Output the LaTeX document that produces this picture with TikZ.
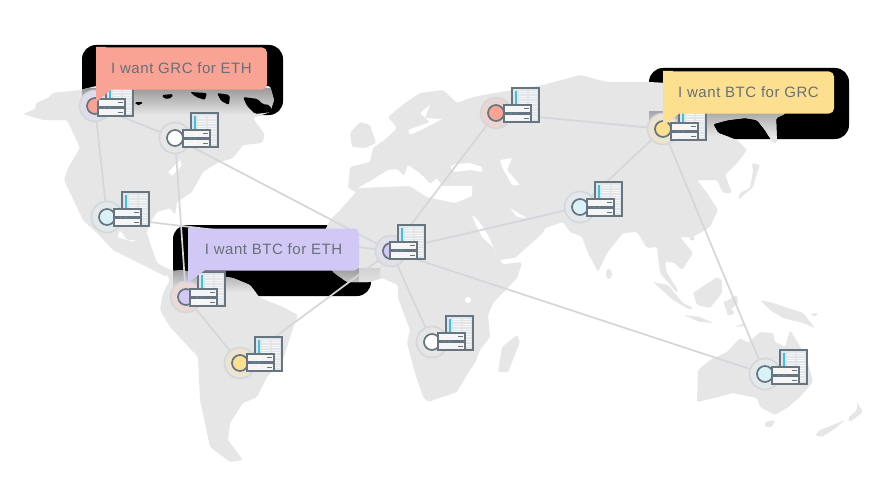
\documentclass[tikz,border=0pt]{standalone}
\usepackage{fontspec}
\setmainfont{Liberation Sans}
\newfontfamily\bubblefont[LetterSpace=3.7]{Liberation Sans}
\usetikzlibrary{backgrounds}
\pgfdeclarelayer{land}\pgfdeclarelayer{edges}\pgfdeclarelayer{bubbles}
\pgfsetlayers{land,edges,main,bubbles}
\definecolor{landc}{HTML}{E6E6E6}
\definecolor{dark}{HTML}{66757F}
\definecolor{edgec}{HTML}{D3D6DA}
\definecolor{txt}{HTML}{66707A}
\definecolor{cred}{HTML}{F8A394}
\definecolor{cblue}{HTML}{DBF1F8}
\definecolor{cpur}{HTML}{D2C8F5}
\definecolor{cyel}{HTML}{FDE08F}
\definecolor{bar}{HTML}{3CC0E4}
\definecolor{towerc}{HTML}{E2E5E7}
\tikzset{
  ring/.style={circle,minimum size=31pt,inner sep=0pt,draw=#1,line width=1.6pt},
  core/.style={circle,minimum size=16pt,inner sep=0pt,draw=dark,line width=1.7pt,fill=#1},
  link/.style={draw=edgec,line width=1.7pt},
  bubble/.style={rounded corners=5pt,fill=#1,text=txt,minimum width=171pt,minimum height=42pt,inner sep=0pt,font=\bubblefont\fontsize{15}{17}\selectfont},
  sea/.style={fill=white,rounded corners=1pt},
  ground/.style={fill=landc,rounded corners=1.5pt},
  blob/.style={fill=black,rounded corners=2pt}
}
\newcommand\srv[2]{%
 \begin{scope}[shift={(#1,#2)}]
  \fill[towerc] (8,-17) rectangle (35,17);
  \foreach \yy in {-14,-11.5,...,14}{\draw[white!70!towerc,line width=.7pt] (15,\yy) -- (23,\yy) (25,\yy) -- (33,\yy);}
  \draw[dark,line width=1.3pt] (8,-17) rectangle (35,17);
  \fill[bar] (11,-14) rectangle (13,0);
  \draw[dark,line width=1.3pt,fill=white!60!landc] (0,0) rectangle (27,17);
  \fill[dark] (0,6.7) rectangle (27,10.3);
  \fill[bar!50!dark] (7,8.5) circle (.8) (12,8.5) circle (.8);
  \draw[dark,line width=.8pt] (20,3.4) -- (25,3.4) (20,13.6) -- (25,13.6);
 \end{scope}}
\newcommand\landpath{
 (23,114)--(35,109)--(36,103)--(50,97)--(52,93)--(80,90)--(96,86)--(270,86)--(274,100)--(270,112)--(253,118)--(265,135)--(262,143)--(243,145)--(233,158)--(217,163)--(203,172)--(192,192)--(177,202)--(175,215)--(170,208)--(157,212)--(148,227)--(147,233)--(138,240)--(127,240)--(120,230)--(117,237)--(133,242)--(147,233)--(150,243)--(157,263)--(173,271)--(182,270)--(190,272)--(200,273)--(233,278)--(250,285)--(260,298)--(283,307)--(298,315)--(293,328)--(283,360)--(267,377)--(257,397)--(243,403)--(230,423)--(228,440)--(243,460)--(230,462)--(210,447)--(205,423)--(200,400)--(198,357)--(170,327)--(160,310)--(163,293)--(170,280)--(165,272)--(167,277)--(153,270)--(133,260)--(113,250)--(97,233)--(83,220)--(72,197)--(64,180)--(68,168)--(80,148)--(75,137)--(67,120)--(43,120)--cycle
 (348,188)--(350,167)--(370,162)--(373,148)--(387,138)--(397,128)--(388,117)--(405,103)--(420,93)--(443,90)--(457,103)--(470,98)--(483,95)--(543,85)--(580,75)--(607,82)--(650,82)--(700,85)--(790,95)--(785,114)--(776,118)--(777,143)--(773,143)--(765,130)--(757,120)--(745,118)--(728,120)--(713,124)--(718,133)--(737,140)--(747,150)--(737,163)--(725,175)--(732,193)--(723,193)--(717,180)--(697,180)--(707,193)--(718,210)--(710,227)--(693,237)--(680,237)--(693,253)--(682,270)--(673,262)--(665,262)--(667,273)--(678,290)--(677,293)--(660,273)--(657,247)--(647,248)--(637,232)--(623,233)--(607,253)--(598,272)--(588,253)--(582,237)--(570,232)--(563,222)--(545,228)--(543,233)--(515,258)--(522,263)--(517,278)--(493,303)--(488,315)--(490,337)--(480,350)--(475,363)--(468,373)--(457,392)--(428,402)--(423,397)--(415,373)--(407,343)--(410,330)--(398,298)--(398,285)--(382,278)--(370,282)--(347,282)--(333,272)--(318,245)--(330,220)--(342,208)--(356,192)--cycle
 (350,133)--(360,122)--(370,125)--(376,143)--(365,148)--(352,147)--cycle
 (502,347)--(517,335)--(520,342)--(508,372)--(498,372)--cycle
 (738,200)--(753,187)--(757,173)--(760,165)--(752,163)--(753,172)--(750,188)--(740,193)--cycle
 (653,282)--(668,285)--(683,303)--(693,308)--(690,310)--(673,300)--cycle
 (693,293)--(717,277)--(722,280)--(722,293)--(710,308)--(697,305)--cycle
 (723,303)--(737,295)--(738,303)--(730,310)--cycle
 (683,315)--(700,317)--(713,323)--(700,322)--cycle
 (723,300)--(735,313)--(728,316)--cycle
 (735,327)--(745,323)--(745,326)--cycle
 (760,300)--(773,303)--(803,313)--(815,328)--(803,323)--(783,318)--(770,310)--cycle
 (810,314)--(818,313)--(815,317)--cycle
 (697,402)--(698,370)--(710,360)--(727,352)--(740,338)--(748,343)--(760,332)--(773,333)--(775,342)--(785,347)--(790,330)--(798,343)--(808,363)--(813,382)--(800,397)--(787,408)--(775,415)--(760,407)--(757,398)--(733,393)--(710,399)--cycle
 (765,422)--(775,420)--(772,427)--(765,427)--cycle
 (857,402)--(863,412)--(850,422)--(848,418)--(857,410)--cycle
 (845,420)--(837,427)--(822,437)--(815,435)--(820,430)--cycle
 (609,274) ellipse (3 and 5)
 (692,238) circle (2.5)
}
\begin{document}
\begin{tikzpicture}[x=1pt,y=-1pt]
\useasboundingbox (0,0) rectangle (894,495);
\begin{pgfonlayer}{land}
 \fill[white] (0,0) rectangle (894,495);
 % black shadow plates behind the callouts
 \fill[black,rounded corners=14pt] (82,45) rectangle (283,115);
 \fill[black,rounded corners=14pt] (173,225) rectangle (371,296);
 \fill[black,rounded corners=14pt] (649,68) rectangle (849,139);
 \path[ground] \landpath;
 \begin{scope}
  \clip[rounded corners=1.5pt] \landpath;
  \shade[top color=black!40,bottom color=landc] (82,88) rectangle (283,115);
  \shade[top color=black!40,bottom color=landc] (173,268) rectangle (359,292);
  \shade[top color=black!18,bottom color=landc] (359,268) rectangle (380,285);
  \shade[top color=black!35,bottom color=landc] (649,111) rectangle (849,136);
 \end{scope}
 % holes in the Canadian archipelago
 \path[blob] (162,95)--(173,94)--(172,98)--(164,99)--cycle
  (190,92)--(207,93)--(205,100)--(196,97)--cycle
  (217,93)--(230,95)--(229,105)--(221,101)--cycle
  (243,97)--(258,99)--(262,104)--(270,105)--(272,112)--(255,114)--(247,106)--cycle
  (135,102)--(143,102)--(141,105)--(136,105)--cycle;
 % inland and marginal seas
 \path[sea] (358,188)--(372,180)--(388,170)--(397,169)--(404,176)--(408,165)--(418,172)--(425,178)--(430,184)--(437,178)--(442,186)--(472,186)--(472,196)--(455,203)--(427,197)--(410,186)--cycle;
 \path[sea] (450,167)--(455,164)--(470,163)--(482,167)--(482,172)--(470,170)--(455,172)--cycle;
 \path[sea] (500,160)--(512,158)--(507,170)--(520,185)--(512,185)--(502,167)--cycle;
 \path[sea] (408,130)--(430,122)--(420,113)--(430,105)--(425,118)--(442,119)--(425,128)--(410,135)--cycle;
 \path[sea] (472,215)--(478,220)--(488,235)--(498,258)--(493,247)--(482,237)--(475,223)--cycle;
 \path[sea] (510,208)--(518,213)--(527,218)--(517,217)--cycle;
 \path[sea] (500,260)--(520,257)--(523,262)--(503,264)--cycle;
 \path[sea] (168,172)--(180,160)--(182,165)--(172,176)--cycle;
 \fill[white] (468,300) circle (3);
\end{pgfonlayer}
% network nodes
\node[ring=edgec,fill=cpur!30!landc] (n1) at (95,106) {};
\node[ring=edgec,fill=landc] (n2) at (175,138) {};
\node[ring=edgec,fill=cblue!30!landc] (n3) at (107,217) {};
\node[ring=edgec,fill=cred!20!landc] (n4) at (186,297) {};
\node[ring=edgec,fill=cyel!25!landc] (n5) at (240,363) {};
\node[ring=edgec,fill=cpur!25!landc] (n6) at (391,251) {};
\node[ring=edgec,fill=landc] (n7) at (432,342) {};
\node[ring=edgec,fill=cred!25!landc] (n8) at (496,113) {};
\node[ring=edgec,fill=cyel!25!landc] (n9) at (663,129) {};
\node[ring=edgec,fill=cblue!30!landc] (n10) at (580,207) {};
\node[ring=edgec,fill=cblue!30!landc] (n11) at (765,374) {};
\node[core=cred] (m1) at (n1) {};
\node[core=white] (m2) at (n2) {};
\node[core=cblue] (m3) at (n3) {};
\node[core=cpur] (m4) at (n4) {};
\node[core=cyel] (m5) at (n5) {};
\node[core=cpur] (m6) at (n6) {};
\node[core=white] (m7) at (n7) {};
\node[core=cred] (m8) at (n8) {};
\node[core=cyel] (m9) at (n9) {};
\node[core=cblue] (m10) at (n10) {};
\node[core=cblue] (m11) at (n11) {};
\srv{98}{99}\srv{183}{130}\srv{114}{209}\srv{190}{289}\srv{247}{354}\srv{390}{242}
\srv{438}{333}\srv{504}{105}\srv{671}{123}\srv{587}{199}\srv{772}{367}
% connectors
\begin{pgfonlayer}{edges}
 \draw[link] (n1) -- (n2);
 \draw[link] (n1) -- (n3);
 \draw[link] (n2) -- (n4);
 \draw[link] (n2) -- (n6);
 \draw[link] (n3) -- (n6);
 \draw[link] (n4) -- (n5);
 \draw[link] (n5) -- (n6);
 \draw[link] (n6) -- (n7);
 \draw[link] (n6) -- (n8);
 \draw[link] (n6) -- (n10);
 \draw[link] (n6) -- (n11);
 \draw[link] (n8) -- (n9);
 \draw[link] (n9) -- (n10);
 \draw[link] (n9) -- (n11);
\end{pgfonlayer}
% callouts
\begin{pgfonlayer}{bubbles}
 \fill[cred] (96,47) -- (106,47) -- (112,89) -- (96,102) -- cycle;
 \node[bubble=cred] (b1) at (181.5,68.5) {I want GRC for ETH};
 \fill[cpur] (188,228) -- (198,228) -- (205,270) -- (188,283) -- cycle;
 \node[bubble=cpur] (b2) at (273.5,249.5) {I want BTC for ETH};
 \fill[cyel] (663,71) -- (673,71) -- (680,113) -- (663,126) -- cycle;
 \node[bubble=cyel] (b3) at (748.5,92.5) {I want BTC for GRC};
\end{pgfonlayer}
\end{tikzpicture}
\end{document}
